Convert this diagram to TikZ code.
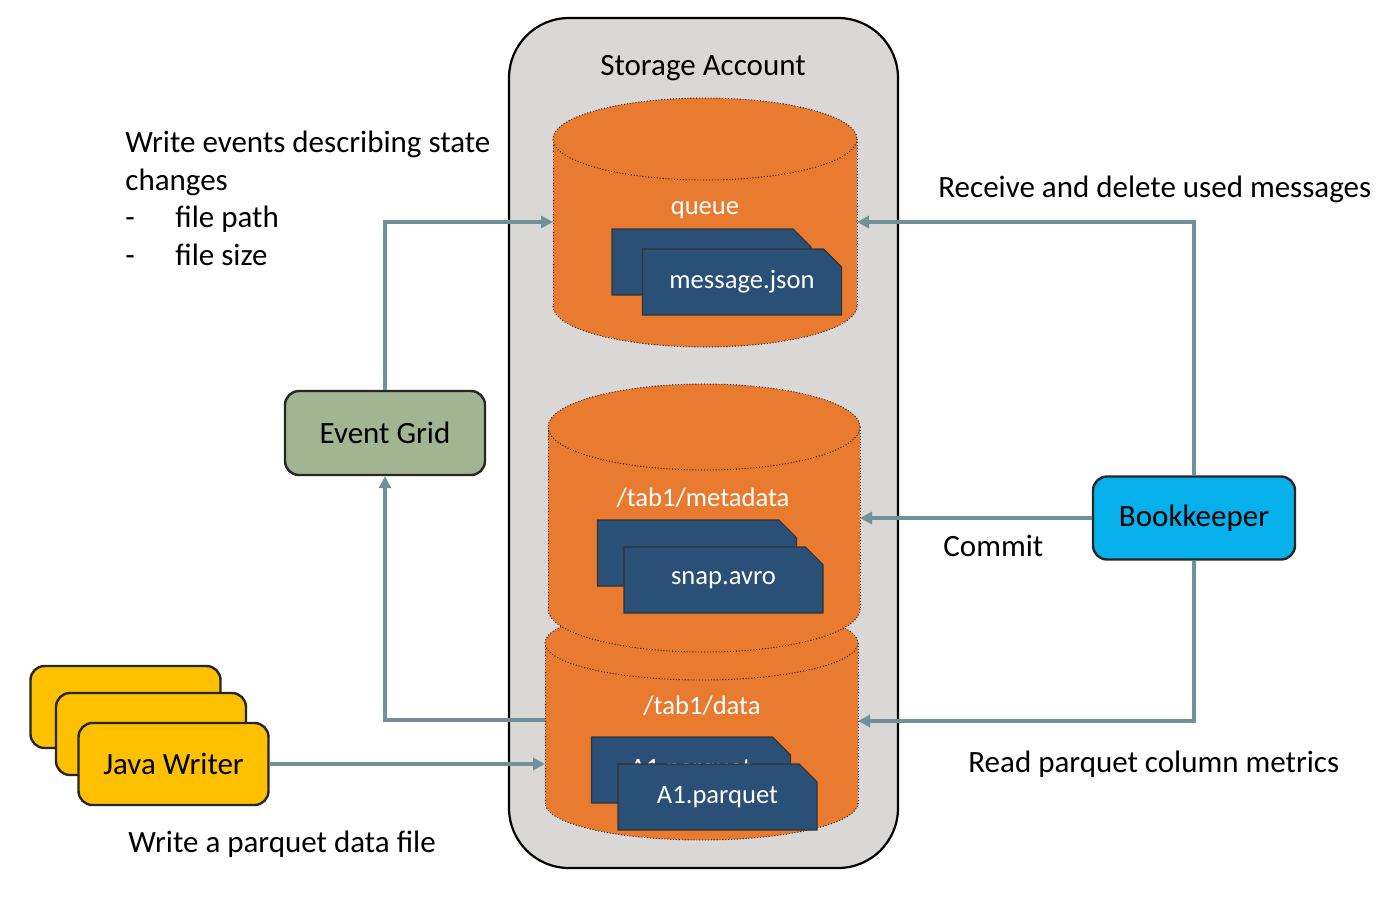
\documentclass[tikz,border=0pt]{standalone}
\usepackage{fontspec}
\setmainfont{Carlito}
\usetikzlibrary{arrows.meta,shapes.misc}
\definecolor{account}{HTML}{D9D8D6}
\definecolor{store}{HTML}{E97B30}
\definecolor{doc}{HTML}{2A5078}
\definecolor{grid}{HTML}{A2B593}
\definecolor{keeper}{HTML}{06B0EA}
\definecolor{writer}{HTML}{FFC000}
\definecolor{flow}{HTML}{72909A}

\tikzset{
  rim/.style={draw=black, densely dotted, line width=0.45pt},
  box/.style={draw=black!85, line width=1.2pt, rounded corners=7pt,
    minimum width=100pt, minimum height=42pt},
  file/.style={chamfered rectangle, chamfered rectangle corners=north east,
    chamfered rectangle xsep=4.5pt, chamfered rectangle ysep=4.5pt,
    draw=black!80, line width=0.6pt, fill=doc, text=white,
    minimum width=99.5pt, minimum height=33pt, inner sep=0pt,
    font=\fontsize{13.3}{16}\selectfont},
  inner/.style={text=white, font=\fontsize{13.3}{16}\selectfont, anchor=base},
  flowline/.style={draw=flow, line width=1.6pt, -{Triangle[length=6pt,width=6pt]}},
}

% cylinder: centre x, x radius, top y, bottom y, y radius
\newcommand{\drum}[5]{%
  \fill[store] ({#1-#2},#3) rectangle ({#1+#2},#4);
  \fill[store] (#1,#4) ellipse [x radius=#2, y radius=#5];
  \draw[rim] ({#1-#2},#3) -- ({#1-#2},#4);
  \draw[rim] ({#1+#2},#3) -- ({#1+#2},#4);
  \begin{scope}
    \clip ({#1-#2-3},#4) rectangle ({#1+#2+3},{#4+#5+3});
    \draw[rim] (#1,#4) ellipse [x radius=#2, y radius=#5];
  \end{scope}
  \fill[store] (#1,#3) ellipse [x radius=#2, y radius=#5];
  \draw[rim] (#1,#3) ellipse [x radius=#2, y radius=#5];
}

\begin{document}
\begin{tikzpicture}[x=0.5pt, y=-0.5pt, font=\fontsize{15.5}{18.4}\selectfont]
    \fill[white] (0,0) rectangle (1400,906);
    \useasboundingbox (0,0) rectangle (1400,906);

    \node at (703.5, 443) (account) [draw=black, line width=1.1pt, fill=account,
      rounded corners=30pt, minimum width=194.5pt, minimum height=425pt] {};
    \node at (703, 75) (title) [anchor=base] {Storage Account};

    % storage containers
    \drum{701.5}{156.5}{643}{803}{37}
    \drum{704}{156}{427}{609}{43}
    \drum{705}{152}{139}{306}{41}

    \node at (705, 214) (queue) [inner] {queue};
    \node at (711.5, 262) (qfile1) [file] {\phantom{message.json}};
    \node at (742, 282) (qfile2) [file] {message.json};

    \node at (703, 506) (meta) [inner] {/tab1/metadata};
    \node at (697, 553) (mfile1) [file] {\phantom{snap.avro}};
    \node at (723.5, 580) (mfile2) [file] {snap.avro};

    \node at (702, 714) (data) [inner] {/tab1/data};
    \node at (691, 770) (dfile1) [file] {A1.parquet};
    \node at (717.5, 797) (dfile2) [file] {A1.parquet};

    \coordinate (queue-in) at (553, 222);
    \coordinate (queue-back) at (857, 222);
    \coordinate (meta-in) at (860, 518);
    \coordinate (data-out) at (545, 720);
    \coordinate (data-in) at (545, 764);
    \coordinate (data-back) at (858, 721);

    % services
    \node at (385, 433) (eventgrid) [box, fill=grid] {Event Grid};
    \node at (1194, 518) (keeper) [box, fill=keeper, minimum width=101pt,
      minimum height=41.5pt] {Bookkeeper};
    \node at (125.5, 707) (writer1) [box, fill=writer, minimum width=95pt,
      minimum height=41pt] {};
    \node at (151, 734) (writer2) [box, fill=writer, minimum width=95pt,
      minimum height=41pt] {};
    \node at (173.5, 764) (writer3) [box, fill=writer, minimum width=95pt,
      minimum height=41pt] {Java Writer};

    \draw[flowline] (eventgrid.north) |- (queue-in);
    \draw[flowline] (data-out) -| (eventgrid.south);
    \draw[flowline] (writer3.east) -- (data-in);
    \draw[flowline] (keeper.north) |- (queue-back);
    \draw[flowline] (keeper.west) -- (meta-in);
    \draw[flowline] (keeper.south) |- (data-back);

    % notes
    \node at (125, 131) (events) [anchor=north west, inner sep=0pt, align=left,
      font=\fontsize{15.5}{18.7}\selectfont]
      {Write events describing state\\changes\\
       \makebox[25pt][l]{-}file path\\\makebox[25pt][l]{-}file size};
    \node at (938, 197) (receive) [anchor=base west, inner sep=0pt]
      {Receive and delete used messages};
    \node at (943, 556) (commit) [anchor=base west, inner sep=0pt] {Commit};
    \node at (968, 772) (metrics) [anchor=base west, inner sep=0pt]
      {Read parquet column metrics};
    \node at (128, 852) (write) [anchor=base west, inner sep=0pt]
      {Write a parquet data file};
\end{tikzpicture}
\end{document}
